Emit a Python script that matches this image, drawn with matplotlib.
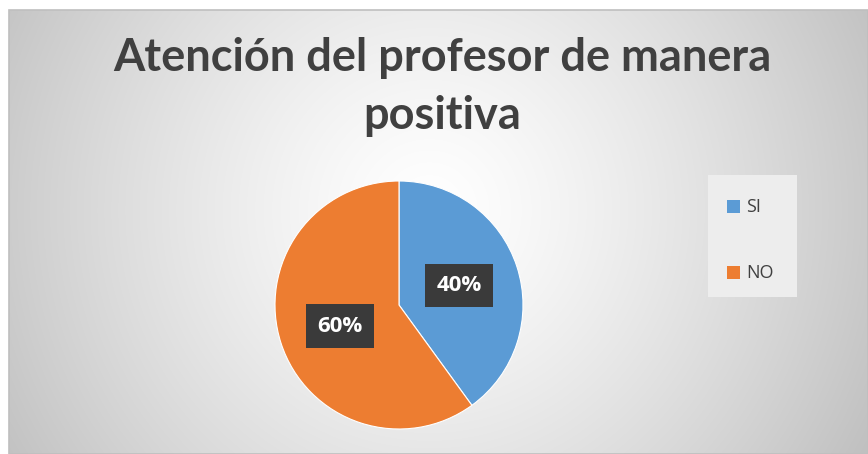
import numpy as np
import matplotlib.pyplot as plt
from matplotlib.patches import Rectangle

labels = ["SI", "NO"]
values = [40, 60]
colors = ["#5B9BD5", "#ED7D31"]
title = "Atención del profesor de manera\npositiva"

W, H = 868, 454
fig = plt.figure(figsize=(W / 100, H / 100), dpi=100)

# background: radial gradient inside the chart area
bg = fig.add_axes([9 / W, 0, (W - 9) / W, (H - 10) / H])
bg.set_axis_off()
yy, xx = np.mgrid[0:H - 10, 0:W - 9]
cx, cy = 420, 200
r = np.sqrt((xx - cx) ** 2 + (yy - cy) ** 2) / 520
r = np.clip(r, 0, 1)
shade = 1 - 0.26 * r ** 1.3
img = np.dstack([shade, shade, shade])
bg.imshow(img, aspect="auto", extent=[0, 1, 0, 1], origin="upper")
bg.set_xlim(0, 1)
bg.set_ylim(0, 1)
fig.patches.append(Rectangle((9 / W, 0), (W - 9) / W, (H - 10) / H,
                             transform=fig.transFigure, fill=False,
                             edgecolor="#BFBFBF", linewidth=1.2))

fig.text(442 / W, 1 - 87 / H, title, ha="center", va="center",
         fontsize=32.5, fontweight="bold", color="#404040", family="Lato",
         linespacing=1.45)

# pie
pr = 124
ax = fig.add_axes([(399 - pr) / W, 1 - (305 + pr) / H, 2 * pr / W, 2 * pr / H])
wedges, _ = ax.pie(values, colors=colors, startangle=90, counterclock=False,
                   radius=1, wedgeprops=dict(edgecolor="white", linewidth=0.8))
ax.set_xlim(-1, 1)
ax.set_ylim(-1, 1)
ax.set_aspect("equal")

label_pos = [(0.485, 0.16), (-0.475, -0.17)]
for v, (lx, ly) in zip(values, label_pos):
    ax.text(lx, ly, f"{v}%", ha="center", va="center", fontsize=16,
            fontweight="bold", color="white", family="Open Sans",
            bbox=dict(boxstyle="square,pad=0.5", facecolor="#3A3A3A",
                      edgecolor="none"))

# legend
leg_ax = fig.add_axes([708 / W, 1 - 297 / H, 89 / W, 122 / H])
leg_ax.set_axis_off()
leg_ax.add_patch(Rectangle((0, 0), 1, 1, facecolor="#EDEDED", edgecolor="none",
                           transform=leg_ax.transAxes))
for i, (lab, col) in enumerate(zip(labels, colors)):
    yc = 0.74 - i * 0.54
    leg_ax.add_patch(Rectangle((0.21, yc - 0.055), 0.15, 0.11, facecolor=col,
                               transform=leg_ax.transAxes))
    leg_ax.text(0.43, yc, lab, ha="left", va="center", fontsize=13,
                color="#404040", family="Open Sans", transform=leg_ax.transAxes)

fig.savefig("out.png", dpi=100)
